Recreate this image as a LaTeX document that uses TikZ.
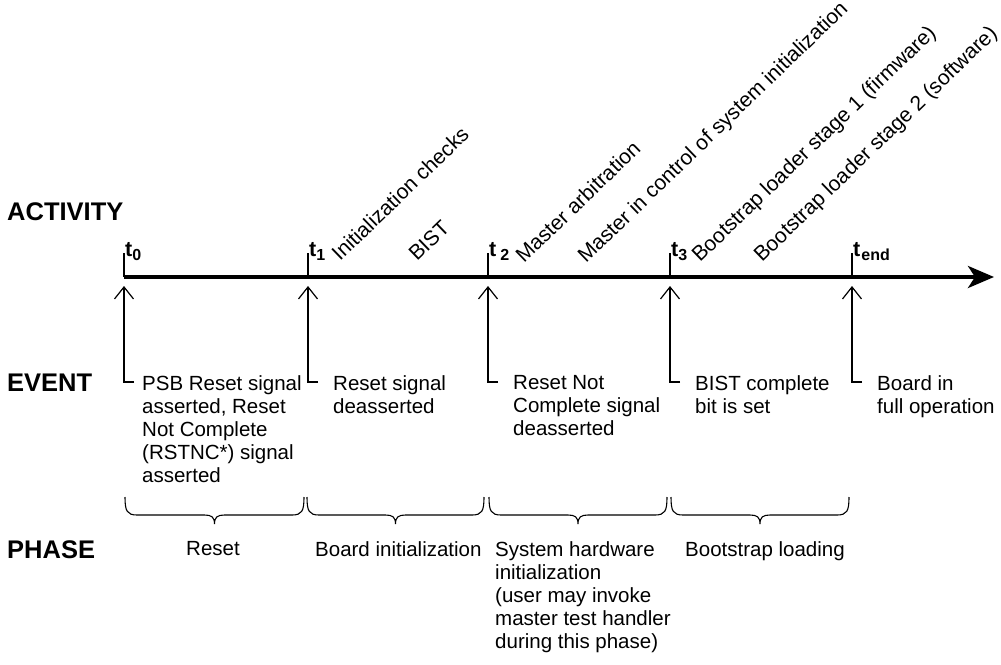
\documentclass[tikz,border=0pt]{standalone}
\usepackage{fontspec}
\setmainfont{Liberation Sans}
\usetikzlibrary{arrows.meta}

% curly brace that opens upward and points down at its middle
\newcommand\phasebrace[2]{%
  \pgfmathsetmacro\bm{(#1+#2)/2}%
  \draw[ph] (#1,497) .. controls (#1,511) and (#1+2,515) .. (#1+12,515)
    -- (\bm-10,515) .. controls (\bm-3,515) and (\bm,517) .. (\bm,524)
    .. controls (\bm,517) and (\bm+3,515) .. (\bm+10,515)
    -- (#2-12,515) .. controls (#2-2,515) and (#2,511) .. (#2,497);}

% time label: bold t with a lowered index
\newcommand\tmark[2][0pt]{t\kern#1\raisebox{-4pt}{\fontsize{16}{16}\selectfont #2}}

\begin{document}
\begin{tikzpicture}[x=1pt,y=-1pt,
  txt/.style={font=\fontsize{20.5}{23}\selectfont, inner sep=0pt, align=left, anchor=north west},
  head/.style={font=\fontsize{25.5}{28}\selectfont\bfseries, inner sep=0pt, anchor=base west},
  act/.style={font=\fontsize{21}{24}\selectfont, inner sep=0pt, rotate=44, anchor=base west},
  tlab/.style={font=\fontsize{21.5}{24}\selectfont\bfseries, inner sep=0pt, anchor=base west},
  tickline/.style={line width=1.1pt},
  axisline/.style={line width=4pt, -{Stealth[length=26pt,width=22pt,inset=7pt]}},
  upar/.style={line width=1.2pt, -{Straight Barb[length=12pt,width=19pt]}},
  ph/.style={line width=1.1pt}]

\useasboundingbox (0,0) rectangle (1001,664);

% row headings
\node[head] (hact) at (7,220) {ACTIVITY};
\node[head] (hev)  at (7,391) {EVENT};
\node[head] (hph)  at (7,558) {PHASE};

% time axis
\coordinate (ax0) at (124,277);
\coordinate (axend) at (994,277);
\draw[axisline] (ax0) -- (axend);

% ticks and their labels
\foreach \x in {124,308,488,670,852}{
  \draw[tickline] (\x,253) -- (\x,277);
}
\node[tlab] (t0) at (125,256) {\tmark{0}};
\node[tlab] (t1) at (309,256) {\tmark{1}};
\node[tlab] (t2) at (489,256) {\tmark[4pt]{2}};
\node[tlab] (t3) at (671,256) {\tmark{3}};
\node[tlab] (tend) at (853,256) {\tmark[1pt]{end}};

% activities
\node[act] (a1) at (340,262) {Initialization checks};
\node[act] (a2) at (417,262) {BIST};
\node[act] (a3) at (524,264) {Master arbitration};
\node[act] (a4) at (586,264) {Master in control of system initialization};
\node[act] (a5) at (700,263) {Bootstrap loader stage 1 (firmware)};
\node[act] (a6) at (762,263) {Bootstrap loader stage 2 (software)};

% events
\node[txt] (e0) at (142,375) {PSB Reset signal\\asserted, Reset\\Not Complete\\(RSTNC*) signal\\asserted};
\node[txt] (e1) at (333,375) {Reset signal\\deasserted};
\node[txt] (e2) at (513,375) {Reset Not\\Complete signal\\deasserted};
\node[txt] (e3) at (695,375) {BIST complete\\bit is set};
\node[txt] (e4) at (877,375) {Board in\\full operation};

% event pointers up to the axis
\foreach \x/\n in {124/0,308/1,488/2,670/3,852/4}{
  \coordinate (k\n) at (\x+10,382);
  \coordinate (p\n) at (\x,286);
}
\foreach \n in {0,...,4}{
  \draw[upar] (k\n) -| (p\n);
}

% phases
\phasebrace{125}{304}
\phasebrace{307}{484}
\phasebrace{489}{667}
\phasebrace{671}{849}

\node[txt, anchor=north] (f0) at (213,541) {Reset};
\node[txt] (f1) at (315,541) {Board initialization};
\node[txt] (f2) at (495,541) {System hardware\\initialization\\(user may invoke\\master test handler\\during this phase)};
\node[txt] (f3) at (685,541) {Bootstrap loading};

\end{tikzpicture}
\end{document}
